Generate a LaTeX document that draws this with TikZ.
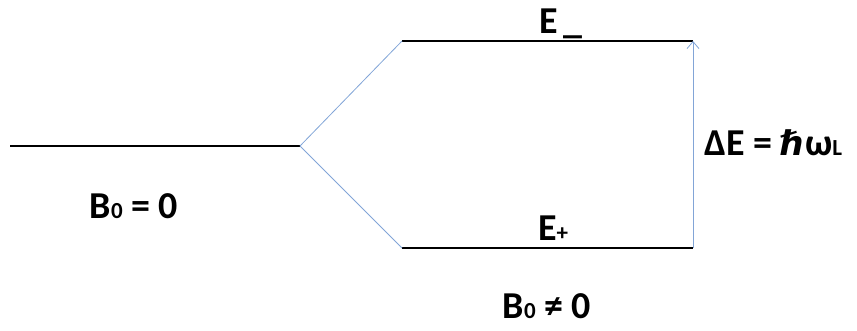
\documentclass[tikz,border=0pt]{standalone}
\usepackage{fontspec}
\setmainfont{Carlito}
\newfontfamily\symfont{DejaVu Sans}
\usetikzlibrary{arrows.meta}
\definecolor{lineblue}{RGB}{130,165,215}
\tikzset{
  level/.style={line width=2.6pt, black},
  split/.style={line width=0.8pt, lineblue},
  lbl/.style={font=\fontsize{38}{42}\selectfont\bfseries, inner sep=0pt},
}
\newcommand{\smallsub}[1]{{\fontsize{23}{25}\selectfont #1}}
\begin{document}
\begin{tikzpicture}[x=1pt,y=-1pt]
\useasboundingbox (0,0) rectangle (857,331);
\coordinate (L0) at (10,146);
\coordinate (L1) at (300,146);
\coordinate (U0) at (402,41);
\coordinate (U1) at (693,41);
\coordinate (D0) at (402,248);
\coordinate (D1) at (693,248);
\draw[level] (L0) -- (L1);
\draw[level] (U0) -- (U1);
\draw[level] (D0) -- (D1);
\draw[split] (L1) -- (U0);
\draw[split] (L1) -- (D0);
\draw[split, -{Straight Barb[length=7pt,width=12pt]}] (D1) -- (U1);
\node[lbl] (em) at (561,24) {E\,\textunderscore};
\node[lbl] (ep) at (553,228) {E\smallsub{+}};
\node[lbl, anchor=west] (de) at (704,143) {ΔE = {\symfont\fontsize{34}{38}\selectfont\bfseries ℏ}ω\smallsub{L}};
\node[lbl] (b0) at (134,206) {B\smallsub{0} = 0};
\node[lbl] (b1) at (547,306) {B\smallsub{0} ≠ 0};
\end{tikzpicture}
\end{document}
